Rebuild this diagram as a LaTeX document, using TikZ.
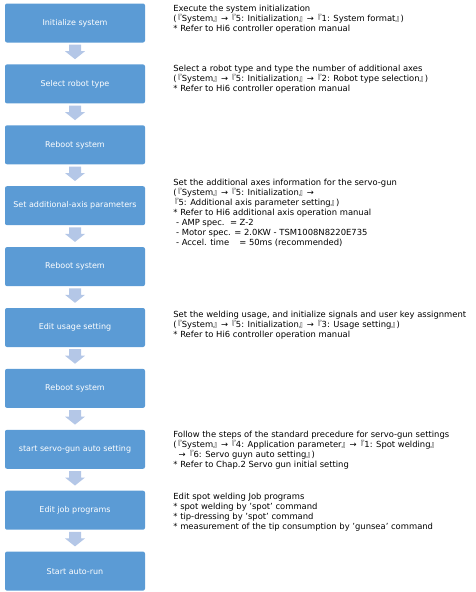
\documentclass[tikz,border=0pt]{standalone}
\usepackage{fontspec}
\setmainfont{DejaVu Sans}
\newfontfamily\cjk[RawFeature=+palt]{Noto Sans CJK KR}
\usetikzlibrary{positioning,calc}
\definecolor{boxblue}{HTML}{5B9BD5}
\definecolor{arrowblue}{HTML}{B4C7E7}
\newcommand{\lqb}{\kern1pt{\cjk 『}}
\newcommand{\rqb}{{\cjk 』}\kern1pt}
\tikzset{
    stepbox/.style={
        fill=boxblue,
        rounded corners=2pt,
        minimum width=140pt,
        minimum height=39pt,
        text=white,
        font=\fontsize{8}{9}\selectfont,
        inner sep=0pt
    },
    note/.style={
        anchor=west,
        align=left,
        font=\fontsize{8.4}{10}\selectfont,
        inner sep=0pt
    },
    flowarrow/.style={
        fill=arrowblue
    }
}

\begin{document}
\begin{tikzpicture}[node distance=21.5pt]
    \useasboundingbox (0,0) rectangle (475pt,-592pt);

    % steps
    \node[stepbox] (init) at (75pt,-23pt) {Initialize system};
    \node[stepbox, below=of init] (robot) {Select robot type};
    \node[stepbox, below=of robot] (reboot1) {Reboot system};
    \node[stepbox, below=of reboot1] (axis) {Set additional-axis parameters};
    \node[stepbox, below=of axis] (reboot2) {Reboot system};
    \node[stepbox, below=of reboot2] (usage) {Edit usage setting};
    \node[stepbox, below=of usage] (reboot3) {Reboot system};
    \node[stepbox, below=of reboot3] (servo) {start servo-gun auto setting};
    \node[stepbox, below=of servo] (job) {Edit job programs};
    \node[stepbox, below=of job] (run) {Start auto-run};

    % block arrows
    \foreach \a in {init,robot,reboot1,axis,reboot2,usage,reboot3,servo,job}
        \fill[flowarrow] ($(\a.south)+(-6pt,-2pt)$) -- ++(12pt,0) -- ++(0,-6.5pt) -- ++(4pt,0)
            -- ++(-10pt,-8pt) -- ++(-10pt,8pt) -- ++(4pt,0) -- cycle;

    % notes
    \node[note, right=28pt of init, yshift=4pt] (initnote) {Execute the system initialization\\
        (\lqb System\rqb{} → \lqb 5: Initialization\rqb{} → \lqb 1: System format\rqb)\\
        * Refer to Hi6 controller operation manual};
    \node[note, right=28pt of robot, yshift=5pt] (robotnote) {Select a robot type and type the number of additional axes\\
        (\lqb System\rqb{} → \lqb 5: Initialization\rqb{} → \lqb 2: Robot type selection\rqb)\\
        * Refer to Hi6 controller operation manual};
    \node[note, right=28pt of axis, yshift=-7.5pt] (axisnote) {Set the additional axes information for the servo-gun\\
        (\lqb System\rqb{} → \lqb 5: Initialization\rqb{} →\\
        \lqb 5: Additional axis parameter setting\rqb)\\
        * Refer to Hi6 additional axis operation manual\\
        \ - AMP spec.\ \ = Z-2\\
        \ - Motor spec. = 2.0KW - TSM1008N8220E735\\
        \ - Accel. time\hspace{10pt}= 50ms (recommended)};
    \node[note, right=28pt of usage, yshift=2pt] (usagenote) {Set the welding usage, and initialize signals and user key assignment\\
        (\lqb System\rqb{} → \lqb 5: Initialization\rqb{} → \lqb 3: Usage setting\rqb)\\
        * Refer to Hi6 controller operation manual};
    \node[note, right=28pt of servo, yshift=-1pt] (servonote) {Follow the steps of the standard precedure for servo-gun settings\\
        (\lqb System\rqb{} → \lqb 4: Application parameter\rqb{} → \lqb 1: Spot welding\rqb\\
        \ \ → \lqb 6: Servo guyn auto setting\rqb)\\
        * Refer to Chap.2 Servo gun initial setting};
    \node[note, right=28pt of job, yshift=-2pt] (jobnote) {Edit spot welding Job programs\\
        * spot welding by 'spot' command\\
        * tip-dressing by 'spot' command\\
        * measurement of the tip consumption by 'gunsea' command};
\end{tikzpicture}
\end{document}
